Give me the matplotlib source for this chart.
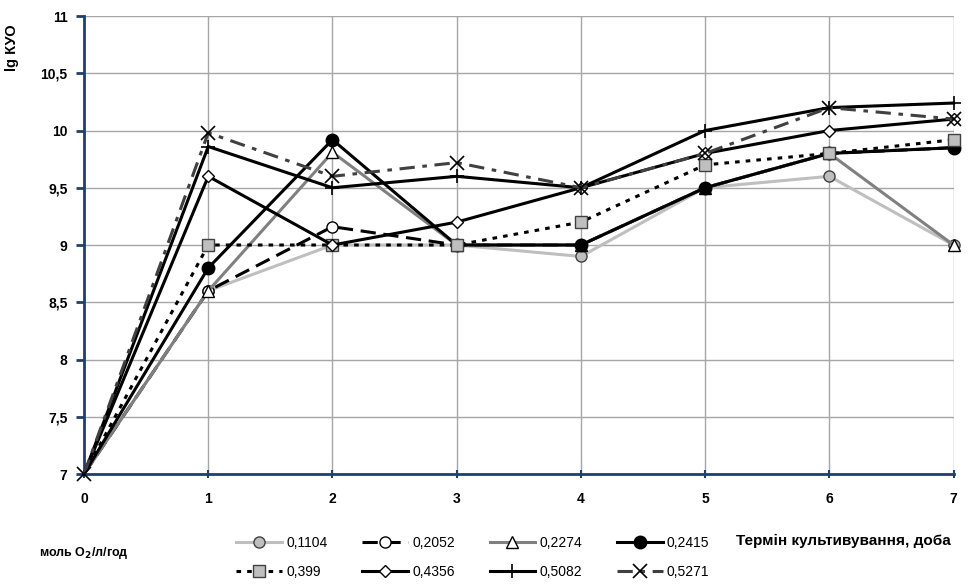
import matplotlib.pyplot as plt
from matplotlib.ticker import FuncFormatter

plt.rcParams['font.family'] = ['Liberation Sans', 'DejaVu Sans']

days = [0, 1, 2, 3, 4, 5, 6, 7]
labels = ["0,1104", "0,2052", "0,2274", "0,2415", "0,399", "0,4356", "0,5082", "0,5271"]

s_0104 = [7, 8.6, 9.0, 9.0, 8.9, 9.5, 9.6, 9.0]
s_2052 = [7, 8.6, 9.16, 9.0, 9.0, 9.5, 9.8, 9.85]
s_2274 = [7, 8.6, 9.81, 9.0, 9.0, 9.5, 9.8, 9.0]
s_2415 = [7, 8.8, 9.92, 9.0, 9.0, 9.5, 9.8, 9.85]
s_399 = [7, 9.0, 9.0, 9.0, 9.2, 9.7, 9.8, 9.92]
s_4356 = [7, 9.6, 9.0, 9.2, 9.5, 9.8, 10.0, 10.1]
s_5082 = [7, 9.86, 9.5, 9.6, 9.5, 10.0, 10.2, 10.24]
s_5271 = [7, 9.98, 9.6, 9.72, 9.5, 9.8, 10.2, 10.1]

series = [s_0104, s_2052, s_2274, s_2415, s_399, s_4356, s_5082, s_5271]

styles = [
    dict(color="#BFBFBF", ls="-", marker="o", mfc="#BFBFBF", mec="#404040", ms=8),
    dict(color="black", ls=(0, (5, 2.5)), marker="o", mfc="white", mec="black", ms=8),
    dict(color="#808080", ls="-", marker="^", mfc="white", mec="black", ms=9),
    dict(color="black", ls="-", marker="o", mfc="black", mec="black", ms=9),
    dict(color="black", ls=(0, (1.5, 2)), marker="s", mfc="#BFBFBF", mec="#404040", ms=9),
    dict(color="black", ls="-", marker="D", mfc="white", mec="black", ms=6.5),
    dict(color="black", ls="-", marker="+", mfc="black", mec="black", ms=10, mew=1.2),
    dict(color="#404040", ls=(0, (5, 2.5, 1.5, 2.5)), marker="x", mfc="black", mec="black", ms=10, mew=1.2),
]

fig = plt.figure(figsize=(9.75, 5.87), dpi=100)
ax = fig.add_axes([0.0862, 0.1925, 0.8918, 0.7802])

handles = []
for i, (vals, st) in enumerate(zip(series, styles)):
    mev = None if i == len(series) - 1 else list(range(1, len(days)))
    h, = ax.plot(days, vals, lw=2.2, label=labels[i], markevery=mev,
                 clip_on=False, zorder=3 + i, **st)
    handles.append(h)

ax.set_xlim(0, 7)
ax.set_ylim(7, 11)
ax.set_xticks(days)
ax.set_yticks([7, 7.5, 8, 8.5, 9, 9.5, 10, 10.5, 11])
ax.yaxis.set_major_formatter(FuncFormatter(lambda v, p: ("%g" % v).replace(".", ",")))
ax.grid(True, color="#A6A6A6", lw=1)
ax.set_axisbelow(True)
for side in ["top", "right"]:
    ax.spines[side].set_visible(False)
for side in ["left", "bottom"]:
    ax.spines[side].set_color("#1F3F6F")
    ax.spines[side].set_linewidth(2)
ax.tick_params(axis="y", direction="out", length=6, width=2, color="#1F3F6F", pad=6)
ax.tick_params(axis="x", direction="inout", length=6, width=1.5, color="#1F3F6F", pad=10)
for t in ax.get_xticklabels() + ax.get_yticklabels():
    t.set_fontweight("bold")
    t.set_fontsize(10)

ax.set_ylabel("lg КУО", fontweight="bold", fontsize=10.5, labelpad=2)
ax.yaxis.set_label_coords(-0.075, 0.93)

fig.text(0.975, 0.079, "Термін культивування, доба", ha="right", va="center",
         fontweight="bold", fontsize=11)
fig.text(0.04, 0.058, "моль O$_\\mathbf{2}$/л/год", ha="left", va="center",
         fontweight="bold", fontsize=9)

order = [0, 4, 1, 5, 2, 6, 3, 7]
fig.legend([handles[k] for k in order], [labels[k] for k in order],
           ncol=4, frameon=False, loc="center left", bbox_to_anchor=(0.235, 0.05),
           fontsize=10, handlelength=3.3, handletextpad=0.3, columnspacing=2.5,
           labelspacing=1.1, borderpad=0)

fig.savefig("out.png", dpi=100)
